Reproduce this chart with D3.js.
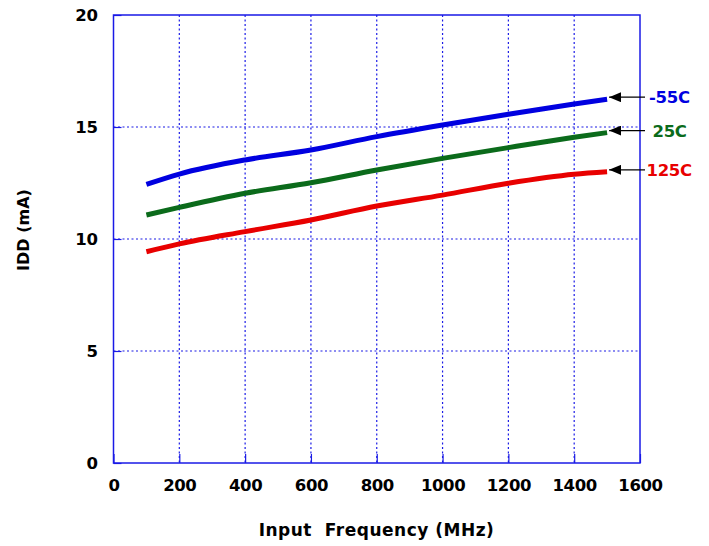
<!DOCTYPE html>
<html>
<head>
<meta charset="utf-8">
<script src="https://d3js.org/d3.v7.min.js"></script>
<style>
	body { margin: 0; background: #fff; }
	svg text { font-family: "DejaVu Sans", Verdana, sans-serif; font-weight: bold; }
</style>
</head>
<body>
<div id="chart"></div>
<script>
// frequency points (MHz)
let freq = [100, 200, 400, 600, 800, 1000, 1200, 1400, 1500];
// IDD (mA)
let idd_m55 = [12.44, 12.9, 13.53, 13.97, 14.57, 15.09, 15.57, 16.03, 16.24];
let idd_25 = [11.07, 11.41, 12.04, 12.51, 13.08, 13.6, 14.08, 14.54, 14.75];
let idd_125 = [9.43, 9.78, 10.33, 10.85, 11.47, 11.96, 12.49, 12.89, 13.0];
let seriesNames = ["-55C", "25C", "125C"];
let xTicks = [0, 200, 400, 600, 800, 1000, 1200, 1400, 1600];
let yTicks = [0, 5, 10, 15, 20];

let panel = {
	width: 709,
	height: 546
};
let plot = { left: 113.5, right: 640, top: 15, bottom: 463 };
let colors = ["#0000e0", "#0b6b1b", "#e80000"];

let series = [idd_m55, idd_25, idd_125].map((vals, i) => {
	return {
		name: seriesNames[i],
		color: colors[i],
		points: vals.map((v, j) => { return { f: freq[j], v: v }; })
	};
});

let x = d3.scaleLinear().domain([0, 1600]).range([plot.left, plot.right]);
let y = d3.scaleLinear().domain([0, 20]).range([plot.bottom, plot.top]);

let svg = d3.select("#chart")
	.append("svg")
	.attr("width", panel.width)
	.attr("height", panel.height);

// dotted grid
svg.append("g")
	.selectAll("line")
	.data(xTicks.slice(1, -1))
	.enter().append("line")
	.attr("x1", (d) => { return x(d); })
	.attr("x2", (d) => { return x(d); })
	.attr("y1", plot.top)
	.attr("y2", plot.bottom)
	.attr("stroke", "#1a1ae6")
	.attr("stroke-width", 1.2)
	.attr("stroke-dasharray", "2,2.5");
svg.append("g")
	.selectAll("line")
	.data(yTicks.slice(1, -1))
	.enter().append("line")
	.attr("x1", plot.left)
	.attr("x2", plot.right)
	.attr("y1", (d) => { return y(d); })
	.attr("y2", (d) => { return y(d); })
	.attr("stroke", "#1a1ae6")
	.attr("stroke-width", 1.2)
	.attr("stroke-dasharray", "2,2.5");

// axes with inside ticks
let xAxis = svg.append("g")
	.attr("transform", "translate(0," + plot.bottom + ")")
	.call(d3.axisBottom(x).tickValues(xTicks).tickFormat(d3.format("d"))
		.tickSizeInner(-9).tickSizeOuter(0).tickPadding(16));
let yAxis = svg.append("g")
	.attr("transform", "translate(" + plot.left + ",0)")
	.call(d3.axisLeft(y).tickValues(yTicks).tickFormat(d3.format("d"))
		.tickSizeInner(-8).tickSizeOuter(0).tickPadding(16));
[xAxis, yAxis].forEach(a => {
	a.select(".domain").remove();
	a.selectAll("line").attr("stroke", "#1a1ae6").attr("stroke-width", 1.2);
	a.selectAll("text")
		.attr("fill", "#000")
		.style("font-size", "16.5px")
		.style("letter-spacing", "-0.4px")
		.style("font-family", "'DejaVu Sans', sans-serif")
		.style("font-weight", "bold");
});

// frame
svg.append("rect")
	.attr("x", plot.left)
	.attr("y", plot.top)
	.attr("width", plot.right - plot.left)
	.attr("height", plot.bottom - plot.top)
	.attr("fill", "none")
	.attr("stroke", "#1a1ae6")
	.attr("stroke-width", 1.5);

// curves
let line = d3.line()
	.x((d) => { return x(d.f); })
	.y((d) => { return y(d.v); })
	.curve(d3.curveMonotoneX);
svg.append("g")
	.selectAll("path")
	.data(series)
	.enter().append("path")
	.attr("d", (d) => { return line(d.points); })
	.attr("fill", "none")
	.attr("stroke", (d) => { return d.color; })
	.attr("stroke-width", 5);

// arrow labels
svg.append("defs").append("marker")
	.attr("id", "head")
	.attr("viewBox", "0 0 12 10")
	.attr("refX", 12)
	.attr("refY", 5)
	.attr("markerWidth", 12)
	.attr("markerHeight", 10)
	.attr("markerUnits", "userSpaceOnUse")
	.attr("orient", "auto")
	.append("path")
	.attr("d", "M0,0L12,5L0,10Z")
	.attr("fill", "#000");

let labels = svg.append("g")
	.selectAll("g")
	.data(series)
	.enter().append("g");
labels.append("line")
	.attr("x1", 645)
	.attr("x2", x(1500) + 2)
	.attr("y1", (d) => { return y(d.points[d.points.length - 1].v) - 2; })
	.attr("y2", (d) => { return y(d.points[d.points.length - 1].v) - 2; })
	.attr("stroke", "#000")
	.attr("stroke-width", 1.2)
	.attr("marker-end", "url(#head)");
labels.append("text")
	.attr("x", (d, i) => { return [649, 652.5, 646.5][i]; })
	.attr("y", (d) => { return y(d.points[d.points.length - 1].v) - 2; })
	.attr("dy", "0.36em")
	.attr("fill", (d) => { return d.color; })
	.style("font-size", "16.5px")
	.style("letter-spacing", "-0.3px")
	.text((d) => { return d.name; });

// axis titles
svg.append("text")
	.attr("x", 376.5)
	.attr("y", 530)
	.attr("dy", "0.36em")
	.attr("text-anchor", "middle")
	.style("font-size", "17px")
	.style("letter-spacing", "0.5px")
	.style("white-space", "pre")
	.text("Input  Frequency (MHz)");
svg.append("text")
	.attr("transform", "translate(23,230) rotate(-90)")
	.attr("dy", "0.36em")
	.attr("text-anchor", "middle")
	.style("font-size", "16px")
	.text("IDD (mA)");
</script>
</body>
</html>
